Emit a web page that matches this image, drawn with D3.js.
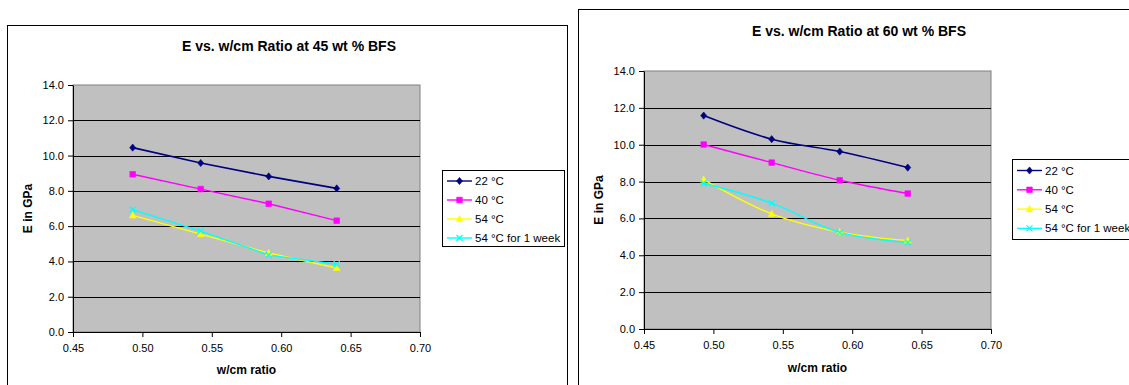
<!DOCTYPE html>
<html>
<head>
<meta charset="utf-8">
<script src="https://cdn.jsdelivr.net/npm/d3@7"></script>
<style>
  html, body { margin: 0; padding: 0; background: #fff; }
  svg { display: block; font-family: "Liberation Sans", Arial, sans-serif; }
</style>
</head>
<body>
<svg id="chart" width="1129" height="385"></svg>
<script>
// w/cm ratios tested
const wcmRatio = [0.493, 0.542, 0.591, 0.640];

// Curing conditions (legend entries)
const seriesNames = ["22 °C", "40 °C", "54 °C", "54 °C for 1 week"];

// Elastic modulus E (GPa) at 45 wt % BFS
const e45_22C = [10.45, 9.58, 8.82, 8.14];
const e45_40C = [8.94, 8.10, 7.27, 6.31];
const e45_54C = [6.61, 5.55, 4.48, 3.63];
const e45_54C1wk = [6.93, 5.72, 4.36, 3.84];

// Elastic modulus E (GPa) at 60 wt % BFS
const e60_22C = [11.58, 10.30, 9.63, 8.76];
const e60_40C = [10.01, 9.03, 8.07, 7.35];
const e60_54C = [8.11, 6.25, 5.26, 4.80];
const e60_54C1wk = [7.91, 6.83, 5.24, 4.69];

// Axis ticks
const xTicks = [0.45, 0.50, 0.55, 0.60, 0.65, 0.70];
const yTicks = [0, 2, 4, 6, 8, 10, 12, 14];

const titles = ["E vs. w/cm Ratio at 45 wt %  BFS", "E vs. w/cm Ratio at 60 wt %  BFS"];
const xTitle = "w/cm ratio";
const yTitle = "E in GPa";

// Series styling
const styles = [
  { color: "#000080", marker: "diamond" },
  { color: "#FF00FF", marker: "square" },
  { color: "#FFFF00", marker: "triangle" },
  { color: "#00FFFF", marker: "cross" }
];

function markerPath(type) {
  switch (type) {
    case "diamond": return "M0,-3.6L3,0L0,3.6L-3,0Z";
    case "square": return "M-2.8,-2.8H2.8V2.8H-2.8Z";
    case "triangle": return "M0,-3.6L3.3,2.6H-3.3Z";
    case "cross": return "M-3,-3L3,3M-3,3L3,-3";
  }
}

function drawMarker(g, type, color, x, y) {
  const p = g.append("path")
    .attr("transform", `translate(${x},${y})`)
    .attr("d", markerPath(type));
  if (type === "cross") {
    p.attr("fill", "none").attr("stroke", color).attr("stroke-width", 1.3);
  } else {
    p.attr("fill", color).attr("stroke", color).attr("stroke-width", 0.6);
  }
}

const svg = d3.select("#chart");

function drawChart(cfg) {
  const g = svg.append("g");

  // outer chart frame
  g.append("rect")
    .attr("x", cfg.frame.x + 0.5).attr("y", cfg.frame.y + 0.5)
    .attr("width", cfg.frame.w).attr("height", cfg.frame.h)
    .attr("fill", "#fff").attr("stroke", "#000").attr("stroke-width", 1);

  const x = d3.scaleLinear().domain([0.45, 0.70]).range([cfg.plot.x0, cfg.plot.x1]);
  const y = d3.scaleLinear().domain([0, 14]).range([cfg.plot.y1, cfg.plot.y0]);

  // plot area
  g.append("rect")
    .attr("x", cfg.plot.x0).attr("y", cfg.plot.y0)
    .attr("width", cfg.plot.x1 - cfg.plot.x0).attr("height", cfg.plot.y1 - cfg.plot.y0)
    .attr("fill", "#C0C0C0").attr("stroke", "#808080").attr("stroke-width", 1);

  // horizontal gridlines
  g.append("g").selectAll("line")
    .data(yTicks.filter(d => d > 0 && d < 14))
    .join("line")
    .attr("x1", cfg.plot.x0).attr("x2", cfg.plot.x1)
    .attr("y1", d => Math.round(y(d)) + 0.5).attr("y2", d => Math.round(y(d)) + 0.5)
    .attr("stroke", "#000").attr("stroke-width", 1.2);

  // axes
  const yAxis = d3.axisLeft(y).tickValues(yTicks).tickFormat(d => d.toFixed(1))
    .tickSizeInner(5).tickSizeOuter(0).tickPadding(4);
  const xAxis = d3.axisBottom(x).tickValues(xTicks).tickFormat(d => d.toFixed(2))
    .tickSizeInner(5).tickSizeOuter(0).tickPadding(7);

  const ya = g.append("g").attr("transform", `translate(${cfg.plot.x0},0)`).call(yAxis);
  const xa = g.append("g").attr("transform", `translate(0,${cfg.plot.y1})`).call(xAxis);
  [ya, xa].forEach(a => {
    a.selectAll("path,line").attr("stroke", "#000").attr("stroke-width", 1);
    a.selectAll("text").attr("font-size", "11px").attr("fill", "#000")
      .attr("font-family", "'Liberation Sans', Arial, sans-serif");
  });

  // title and axis titles
  g.append("text")
    .attr("x", cfg.titlePos[0]).attr("y", cfg.titlePos[1])
    .attr("text-anchor", "middle").attr("font-size", "14px").attr("font-weight", "bold")
    .text(cfg.title);
  g.append("text")
    .attr("x", (cfg.plot.x0 + cfg.plot.x1) / 2 + cfg.xTitleDx).attr("y", cfg.xTitleY)
    .attr("text-anchor", "middle").attr("font-size", "12px").attr("font-weight", "bold")
    .text(xTitle);
  g.append("text")
    .attr("transform", `translate(${cfg.yTitleX},${(cfg.plot.y0 + cfg.plot.y1) / 2}) rotate(-90)`)
    .attr("text-anchor", "middle").attr("font-size", "12px").attr("font-weight", "bold")
    .text(yTitle);

  // series lines and markers
  const line = d3.line().x((d, i) => x(wcmRatio[i])).y(d => y(d)).curve(cfg.curve);
  cfg.series.forEach((vals, si) => {
    const st = styles[si];
    g.append("path").datum(vals)
      .attr("d", line).attr("fill", "none")
      .attr("stroke", st.color).attr("stroke-width", si === 0 ? 1.6 : 1.4);
  });
  cfg.series.forEach((vals, si) => {
    const st = styles[si];
    vals.forEach((v, i) => drawMarker(g, st.marker, st.color, x(wcmRatio[i]), y(v)));
  });

  // legend
  const L = cfg.legend;
  g.append("rect")
    .attr("x", L.x + 0.5).attr("y", L.y + 0.5).attr("width", L.w).attr("height", L.h)
    .attr("fill", "#fff").attr("stroke", "#000").attr("stroke-width", 1);
  seriesNames.forEach((name, si) => {
    const st = styles[si];
    const ry = L.y + L.row0 + si * L.rowStep;
    g.append("line")
      .attr("x1", L.x + 5).attr("x2", L.x + 30).attr("y1", ry).attr("y2", ry)
      .attr("stroke", st.color).attr("stroke-width", 1.4);
    drawMarker(g, st.marker, st.color, L.x + 17.5, ry);
    g.append("text")
      .attr("x", L.x + 33).attr("y", ry + 4)
      .attr("font-size", "11.5px").text(name);
  });
}

drawChart({
  frame: { x: 7, y: 25, w: 560, h: 380 },
  plot: { x0: 73, x1: 420, y0: 85, y1: 332 },
  title: titles[0],
  titlePos: [289, 51],
  xTitleDx: 0, xTitleY: 374,
  yTitleX: 32,
  curve: d3.curveLinear,
  series: [e45_22C, e45_40C, e45_54C, e45_54C1wk],
  legend: { x: 442, y: 170, w: 122, h: 76, row0: 11, rowStep: 19 }
});

drawChart({
  frame: { x: 578, y: 9, w: 600, h: 400 },
  plot: { x0: 644, x1: 991, y0: 71, y1: 329 },
  title: titles[1],
  titlePos: [859, 36],
  xTitleDx: 0, xTitleY: 372,
  yTitleX: 603,
  curve: d3.curveCardinal.tension(0),
  series: [e60_22C, e60_40C, e60_54C, e60_54C1wk],
  legend: { x: 1012, y: 159, w: 130, h: 80, row0: 11.5, rowStep: 19.3 }
});
</script>
</body>
</html>
